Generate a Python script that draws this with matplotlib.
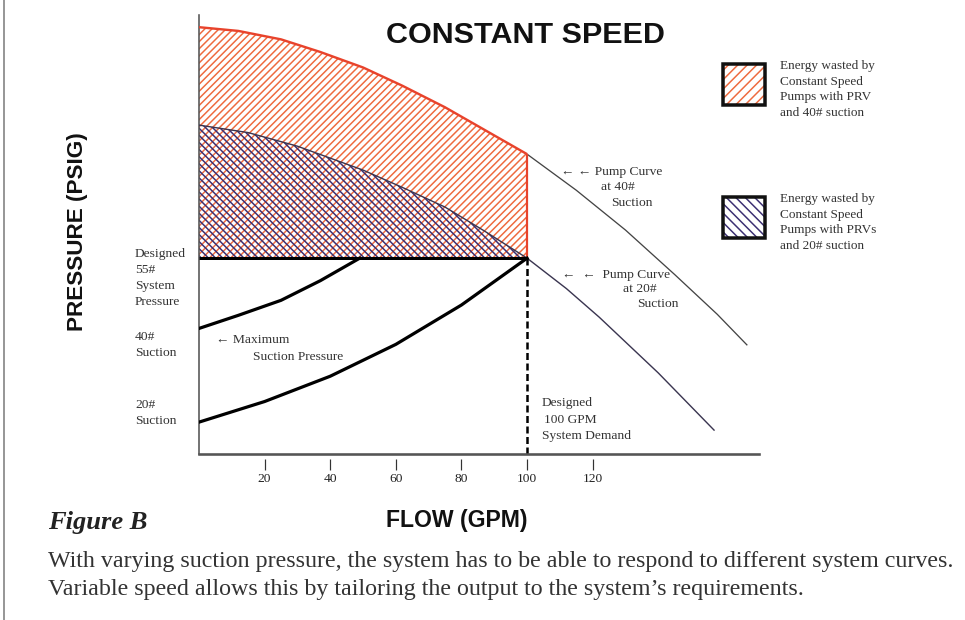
import matplotlib
matplotlib.use('Agg')
import matplotlib.pyplot as plt
import numpy as np
from matplotlib.patches import Rectangle
from matplotlib.lines import Line2D

# ---------------- data ----------------
flow_ticks = [20, 40, 60, 80, 100, 120]
tick_labels = ['20', '40', '60', '80', '100', '120']

pump40_flow = [0, 12, 25, 37, 50, 62, 75, 87, 100, 115, 130, 145, 158, 167]
pump40_psi = [104.3, 103.5, 101.7, 99.0, 95.7, 91.8, 87.2, 82.4, 77.2, 69.5, 61.0, 51.5, 43.0, 36.5]

pump20_flow = [0, 15, 30, 50, 62, 75, 87, 100, 112, 122, 140, 157]
pump20_psi = [83.4, 81.8, 78.9, 73.8, 70.1, 65.9, 60.8, 55.0, 48.5, 42.4, 30.5, 18.3]

sys40_flow = [0, 12, 25, 37, 49]
sys40_psi = [40, 42.8, 46.0, 50.2, 55]

sys20_flow = [0, 20, 40, 60, 80, 100]
sys20_psi = [20, 24.4, 29.8, 36.6, 45.0, 55]

design_flow = 100
design_psi = 55

# ---------------- layout helpers ----------------
DPI = 85
W, H = 965, 620


def pt(px):
    return px * 72.0 / DPI


def fx(px):
    return px / W


def fy(py):
    return 1 - py / H


RED = '#e8432c'
RED_H = '#ee6a3e'
NAVY = '#3b2f72'
GREY = '#555555'
SERIF = ['Liberation Serif', 'DejaVu Serif']
SANS = ['Liberation Sans', 'DejaVu Sans']

plt.rcParams['hatch.linewidth'] = pt(1.5)

fig = plt.figure(figsize=(W / DPI, H / DPI), dpi=DPI)
fig.patch.set_facecolor('white')
ax = fig.add_axes([fx(199), fy(454), fx(759) - fx(199), fy(15) - fy(454)])
ax.set_xlim(0, 170.7)
ax.set_ylim(13.2, 106.9)
ax.set_facecolor('none')

q40 = np.array(pump40_flow, dtype=float)
p40 = np.array(pump40_psi, dtype=float)
q20 = np.array(pump20_flow, dtype=float)
p20 = np.array(pump20_psi, dtype=float)
m40 = q40 <= design_flow
m20 = q20 <= design_flow

# hatched energy regions
ax.fill_between(q40[m40], p40[m40], design_psi, facecolor='none',
                edgecolor=RED_H, linewidth=0, hatch='////', zorder=1)
ax.fill_between(q20[m20], p20[m20], design_psi, facecolor='none',
                edgecolor=NAVY, linewidth=0, hatch='\\\\\\\\', zorder=2)

# pump curves
ax.plot(q40[q40 >= design_flow], p40[q40 >= design_flow], color='#444444',
        lw=pt(1.3), zorder=3)
ax.plot(q40[m40], p40[m40], color=RED, lw=pt(2.4), zorder=4,
        solid_capstyle='butt')
ax.vlines(design_flow, design_psi, p40[q40 == design_flow][0], color=RED,
          lw=pt(2.2), zorder=4)
ax.plot(q20, p20, color='#3a3550', lw=pt(1.4), zorder=3)

# system curves and design lines
ax.hlines(design_psi, 0, design_flow, color='black', lw=pt(3.0), zorder=5)
ax.plot(sys40_flow, sys40_psi, color='black', lw=pt(3.2), zorder=5)
ax.plot(sys20_flow, sys20_psi, color='black', lw=pt(3.2), zorder=5)
ax.vlines(design_flow, ax.get_ylim()[0], design_psi, color='black',
          lw=pt(2.5), linestyles=(0, (2.8, 1.4)), zorder=5)

# axes frame
for s in ('top', 'right'):
    ax.spines[s].set_visible(False)
ax.spines['left'].set_color(GREY)
ax.spines['left'].set_linewidth(pt(1.6))
ax.spines['bottom'].set_position(('outward', pt(5)))
ax.spines['bottom'].set_visible(False)
ax.axhline(ax.get_ylim()[0], color=GREY, lw=pt(2.6), clip_on=False, zorder=6)

ax.set_yticks([])
ax.set_xticks(flow_ticks)
ax.set_xticklabels(tick_labels)
ax.tick_params(axis='x', direction='out', length=pt(11), width=pt(1.2),
               color='#333333', pad=pt(3), labelsize=pt(13.5), labelcolor='#222222')
for lbl in ax.get_xticklabels():
    lbl.set_family(SERIF)

# titles
fig.text(fx(525), fy(35), 'CONSTANT SPEED', ha='center', va='center',
         family=SANS, weight='bold', size=pt(30.5), color='#111111')
fig.text(fx(457), fy(520), 'FLOW (GPM)', ha='center', va='center',
         family=SANS, weight='bold', size=pt(23), color='#111111')
fig.text(fx(78), fy(232), 'PRESSURE (PSIG)', ha='center', va='center',
         rotation=90, family=SANS, weight='bold', size=pt(22.5), color='#111111')

small = dict(family=SERIF, size=pt(13.5), color='#333333', linespacing=1.3)
stack = dict(small, linespacing=1.48)

# left labels
fig.text(fx(135), fy(278), 'Designed\n55#\nSystem\nPressure', ha='left', va='center', **stack)
fig.text(fx(135), fy(345), '40#\nSuction', ha='left', va='center', **stack)
fig.text(fx(135), fy(413), '20#\nSuction', ha='left', va='center', **stack)

# in-plot annotations
fig.text(fx(216), fy(340), '\u2190 Maximum', ha='left', va='center', **small)
fig.text(fx(253), fy(357), 'Suction Pressure', ha='left', va='center', **small)

fig.text(fx(561), fy(172), '\u2190 \u2190 Pump Curve', ha='left', va='center', **small)
fig.text(fx(618), fy(187), 'at 40#', ha='center', va='center', **small)
fig.text(fx(632), fy(203), 'Suction', ha='center', va='center', **small)

fig.text(fx(562), fy(275), '\u2190  \u2190  Pump Curve', ha='left', va='center', **small)
fig.text(fx(640), fy(289), 'at 20#', ha='center', va='center', **small)
fig.text(fx(658), fy(304), 'Suction', ha='center', va='center', **small)

fig.text(fx(542), fy(403), 'Designed', ha='left', va='center', **small)
fig.text(fx(544), fy(420), '100 GPM', ha='left', va='center', **small)
fig.text(fx(542), fy(436), 'System Demand', ha='left', va='center', **small)

# legend
legend_items = [
    (64, RED_H, '///', 'Energy wasted by\nConstant Speed\nPumps with PRV\nand 40# suction'),
    (197, NAVY, '\\\\\\', 'Energy wasted by\nConstant Speed\nPumps with PRVs\nand 20# suction'),
]
for top, col, hat, txt in legend_items:
    x0, w, h = 723, 42, 41
    fig.add_artist(Rectangle((fx(x0), fy(top + h)), w / W, h / H,
                             transform=fig.transFigure, facecolor='white',
                             edgecolor=col, linewidth=0, hatch=hat))
    fig.add_artist(Rectangle((fx(x0), fy(top + h)), w / W, h / H,
                             transform=fig.transFigure, facecolor='none',
                             edgecolor='#111111', linewidth=pt(3.5)))
    fig.text(fx(780), fy(top - 4), txt, ha='left', va='top',
             family=SERIF, size=pt(13.3), color='#333333', linespacing=1.39)

# caption
fig.text(fx(48), fy(523), 'Figure B', ha='left', va='center', family=SERIF,
         weight='bold', style='italic', size=pt(26.5), color='#222222')
fig.text(fx(48), fy(562),
         'With varying suction pressure, the system has to be able to respond to different system curves.',
         ha='left', va='center', family=SERIF, size=pt(24), color='#333333')
fig.text(fx(48), fy(590),
         'Variable speed allows this by tailoring the output to the system\u2019s requirements.',
         ha='left', va='center', family=SERIF, size=pt(24), color='#333333')

# page border on the left
fig.add_artist(Line2D([fx(4), fx(4)], [0, 1], transform=fig.transFigure,
                      color='#777777', lw=pt(1.5)))

fig.savefig('out.png', dpi=DPI)
